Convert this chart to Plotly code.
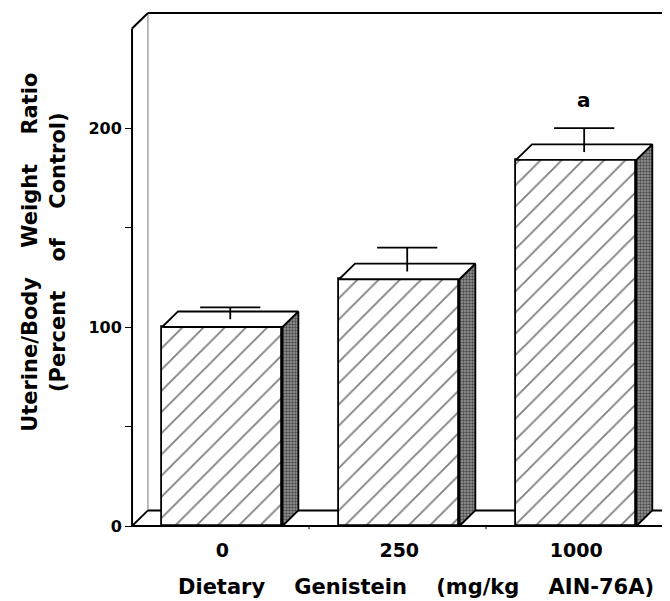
import plotly.graph_objects as go

# ---- data ----
categories = ["0", "250", "1000"]          # dietary genistein, mg/kg AIN-76A
uterine_ratio = [100, 124, 184]           # uterine/body weight ratio, % of control
sem = [6, 12, 12]                          # error bar heights
signif = ["", "", "a"]                     # significance letters
y_tickvals = [0, 50, 100, 150, 200]
y_ticktext = ["0", "", "100", "", "200"]

# ---- pseudo-3D geometry (axis units) ----
BW = 0.68      # bar width
DX = 0.09      # depth offset, x units
DY = 7.8       # depth offset, y units
AX_L = -0.51   # front y axis position
AX_TOP = 250   # top of the front axis
N = len(categories)
pos = list(range(N))
BLACK = "black"
LW = 1.8

fig = go.Figure()

for i, (v, e) in enumerate(zip(uterine_ratio, sem)):
    xl, xr = pos[i] - BW / 2, pos[i] + BW / 2
    # side face (stippled)
    fig.add_trace(go.Scatter(
        x=[xr, xr + DX, xr + DX, xr, xr], y=[0, DY, v + DY, v, 0],
        mode="lines", fill="toself", fillcolor="#777777",
        fillpattern=dict(shape=".", size=3, solidity=0.5, fgcolor="black", bgcolor="#999999"),
        line=dict(color=BLACK, width=LW), hoverinfo="skip", showlegend=False))
    # top face
    fig.add_trace(go.Scatter(
        x=[xl, xl + DX, xr + DX, xr, xl], y=[v, v + DY, v + DY, v, v],
        mode="lines", fill="toself", fillcolor="white",
        line=dict(color=BLACK, width=LW), hoverinfo="skip", showlegend=False))
    # error bar (mid-depth plane)
    xc = pos[i] + DX / 2
    base = v + DY / 2
    fig.add_trace(go.Scatter(
        x=[xc, xc, None, xc - 0.17, xc + 0.17],
        y=[base, base + e, None, base + e, base + e],
        mode="lines", line=dict(color=BLACK, width=1.8),
        hoverinfo="skip", showlegend=False))
    if signif[i]:
        fig.add_annotation(x=xc, y=base + e, xref="x", yref="y", text=signif[i],
                           showarrow=False, yanchor="bottom", yshift=14,
                           font=dict(family="DejaVu Sans", size=20, color=BLACK, weight="bold"))

# front faces (hatched bars)
fig.add_trace(go.Bar(
    x=pos, y=uterine_ratio, width=BW,
    marker=dict(color="white", line=dict(color=BLACK, width=LW),
                pattern=dict(shape="/", fgcolor="black", bgcolor="white", size=15, solidity=0.12)),
    hoverinfo="skip", showlegend=False))

# ---- frame: back wall, floor, front axis ----
XE = AX_L + N  # end of floor
shapes = [
    dict(type="line", x0=AX_L + DX, y0=DY, x1=AX_L + DX, y1=AX_TOP + DY,
         line=dict(color="#777", width=1), layer="below"),
    dict(type="line", x0=AX_L + DX, y0=AX_TOP + DY, x1=XE + 0.2, y1=AX_TOP + DY,
         line=dict(color=BLACK, width=LW), layer="below"),
    dict(type="line", x0=AX_L + DX, y0=DY, x1=XE + 0.2, y1=DY,
         line=dict(color=BLACK, width=LW), layer="below"),
    dict(type="line", x0=AX_L, y0=0, x1=AX_L, y1=AX_TOP, line=dict(color=BLACK, width=2)),
    dict(type="line", x0=AX_L, y0=AX_TOP, x1=AX_L + DX, y1=AX_TOP + DY,
         line=dict(color=BLACK, width=2)),
    dict(type="line", x0=AX_L, y0=0, x1=XE, y1=0, line=dict(color=BLACK, width=LW)),
    dict(type="line", x0=AX_L, y0=0, x1=AX_L + DX, y1=DY, line=dict(color=BLACK, width=LW)),
    dict(type="line", x0=XE, y0=0, x1=XE + DX, y1=DY, line=dict(color=BLACK, width=LW)),
]
for k in range(1, N):
    shapes.append(dict(type="line", x0=AX_L + k, y0=0, x1=AX_L + k, y1=-1.6,
                       line=dict(color=BLACK, width=1)))

TITLE_FONT = dict(family="DejaVu Sans", size=21, color=BLACK, weight="bold")
SP = "\u00a0" * 4

fig.add_annotation(xref="paper", yref="paper", x=-0.138, y=0.532,
                   text="Uterine/Body" + SP + "Weight" + SP + "Ratio<br>(Percent" + SP + "of" + SP + "Control)",
                   textangle=-90, showarrow=False, font=TITLE_FONT,
                   xanchor="center", yanchor="middle")
fig.add_annotation(xref="paper", yref="paper", x=0.538, y=-0.107,
                   text="Dietary" + SP + "Genistein" + SP + "(mg/kg" + SP + "AIN-76A)",
                   showarrow=False, font=TITLE_FONT, xanchor="center", yanchor="middle")

# page body adds an 8 px offset, so the figure is 8 px smaller than the window
fig.update_layout(
    width=662, height=593,
    margin=dict(l=112, r=0, t=0, b=70),
    paper_bgcolor="white", plot_bgcolor="white",
    shapes=shapes, bargap=0,
    xaxis=dict(range=[-0.578, 2.530], tickvals=pos, ticktext=categories,
               showgrid=False, zeroline=False, showline=False, ticks="",
               ticklabelstandoff=6,
               tickfont=dict(family="DejaVu Sans", size=19, color=BLACK, weight="bold")),
    yaxis=dict(range=[-2.51, 260.3], tickvals=y_tickvals, ticktext=y_ticktext,
               anchor="free", position=12 / 550,
               ticks="outside", ticklen=7, tickwidth=1.4, tickcolor=BLACK,
               showgrid=False, zeroline=False, showline=False,
               tickfont=dict(family="DejaVu Sans", size=16, color=BLACK, weight="bold")),
)

fig.write_html("out.html")
